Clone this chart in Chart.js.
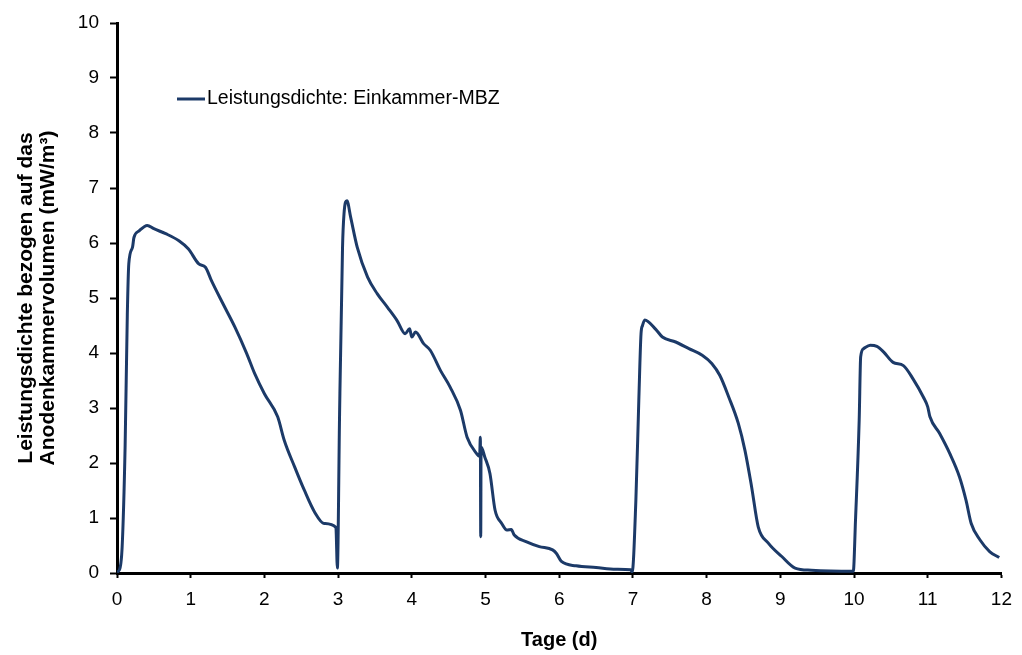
<!DOCTYPE html>
<html lang="de">
<head>
<meta charset="utf-8">
<title>Leistungsdichte Einkammer-MBZ</title>
<script src="https://cdn.jsdelivr.net/npm/chart.js@4/dist/chart.umd.min.js"></script>
<style>
  html, body { margin: 0; padding: 0; background: #fff; }
  #wrap { width: 1022px; height: 655px; position: relative; }
</style>
</head>
<body>
<div id="wrap"><canvas id="powerChart"></canvas></div>
<script>
// Tage (d)
const days = [
  0.00, 0.03, 0.07, 0.11, 0.14, 0.16, 0.21, 0.23, 0.30, 0.41, 0.50, 0.66, 0.84, 0.97,
  1.11, 1.20, 1.28, 1.44, 1.60, 1.76, 1.87, 2.00, 2.18, 2.27, 2.41, 2.54, 2.68, 2.81,
  2.97, 2.99, 3.02, 3.06, 3.08, 3.12, 3.17, 3.26, 3.40, 3.53, 3.67, 3.80, 3.91, 3.97,
  4.00, 4.05, 4.16, 4.25, 4.39, 4.52, 4.66, 4.75, 4.88, 4.92, 4.93, 4.935, 4.94, 4.99,
  5.06, 5.13, 5.22, 5.29, 5.35, 5.39, 5.55, 5.73, 5.91, 5.96, 6.03, 6.23, 6.50, 6.77,
  6.97, 6.99, 7.04, 7.08, 7.11, 7.13, 7.16, 7.31, 7.40, 7.58, 7.76, 7.94, 8.07, 8.18,
  8.30, 8.43, 8.52, 8.61, 8.70, 8.84, 9.02, 9.20, 9.42, 9.99, 10.02, 10.07, 10.09, 10.13,
  10.22, 10.31, 10.40, 10.53, 10.67, 10.80, 10.94, 11.00, 11.03, 11.16, 11.30, 11.43,
  11.52, 11.59, 11.71, 11.84, 11.97
];

// Leistungsdichte (mW/m³)
const powerDensity = [
  0.02, 0.05, 0.48, 2.30, 4.70, 5.62, 5.92, 6.10, 6.22, 6.32, 6.26, 6.17, 6.04, 5.89,
  5.62, 5.56, 5.32, 4.89, 4.47, 3.99, 3.62, 3.26, 2.84, 2.41, 1.93, 1.51, 1.11, 0.90,
  0.83, 0.09, 2.90, 5.92, 6.53, 6.77, 6.47, 5.92, 5.38, 5.08, 4.83, 4.59, 4.35, 4.44,
  4.29, 4.38, 4.17, 4.05, 3.68, 3.38, 2.96, 2.47, 2.17, 2.12, 2.47, 0.66, 2.29, 2.11,
  1.81, 1.14, 0.90, 0.78, 0.79, 0.69, 0.57, 0.48, 0.42, 0.36, 0.21, 0.13, 0.10, 0.07,
  0.06, 0.02, 1.32, 3.14, 4.35, 4.50, 4.60, 4.43, 4.29, 4.20, 4.08, 3.96, 3.81, 3.59,
  3.20, 2.72, 2.23, 1.57, 0.84, 0.54, 0.30, 0.09, 0.05, 0.03, 0.96, 2.78, 3.93, 4.08,
  4.14, 4.12, 4.02, 3.83, 3.77, 3.53, 3.20, 3.02, 2.84, 2.54, 2.17, 1.75,
  1.32, 0.90, 0.60, 0.39, 0.28
];

const seriesLabel = 'Leistungsdichte: Einkammer-MBZ';
const xTitle = 'Tage (d)';
const yTitle = ['Leistungsdichte bezogen auf das', 'Anodenkammervolumen (mW/m³)'];

const lineColor = '#1c3a68';
const fontFamily = '"Liberation Sans", Arial, sans-serif';

// legend drawn inside the plot area, upper left
const insideLegend = {
  id: 'insideLegend',
  afterDraw(chart) {
    const { ctx, chartArea } = chart;
    const x0 = chartArea.left + 60;
    const y0 = chartArea.top + 76;
    ctx.save();
    ctx.strokeStyle = lineColor;
    ctx.lineWidth = 3;
    ctx.beginPath();
    ctx.moveTo(x0, y0);
    ctx.lineTo(x0 + 28, y0);
    ctx.stroke();
    ctx.fillStyle = '#000';
    ctx.font = '19.5px ' + fontFamily;
    ctx.textBaseline = 'middle';
    ctx.textAlign = 'left';
    ctx.fillText(chart.data.datasets[0].label, x0 + 30, y0);
    ctx.restore();
  }
};

const ctx = document.getElementById('powerChart').getContext('2d');
new Chart(ctx, {
  type: 'scatter',
  data: {
    datasets: [{
      label: seriesLabel,
      data: days.map((d, i) => ({ x: d, y: powerDensity[i] })),
      showLine: true,
      borderColor: lineColor,
      backgroundColor: lineColor,
      borderWidth: 3,
      pointRadius: 0,
      cubicInterpolationMode: 'monotone'
    }]
  },
  options: {
    responsive: true,
    maintainAspectRatio: false,
    animation: false,
    layout: { padding: { top: 23, right: 15, left: 0, bottom: 0 } },
    plugins: {
      legend: { display: false },
      tooltip: { enabled: false }
    },
    scales: {
      x: {
        type: 'linear',
        min: 0,
        max: 12,
        afterFit: s => { s.height = 82; },
        ticks: { stepSize: 1, color: '#000', padding: 10, font: { size: 19, family: fontFamily } },
        grid: { drawOnChartArea: false, drawTicks: true, tickLength: 5, tickColor: '#000', tickWidth: 2 },
        border: { color: '#000', width: 3 },
        title: {
          display: true,
          text: xTitle,
          color: '#000',
          padding: { top: 0, bottom: 3 },
          font: { size: 20, weight: 'bold', family: fontFamily }
        }
      },
      y: {
        min: 0,
        max: 10,
        afterFit: s => { s.width = 117; },
        ticks: { stepSize: 1, color: '#000', padding: 11, font: { size: 19, family: fontFamily } },
        grid: { drawOnChartArea: false, drawTicks: true, tickLength: 7, tickColor: '#000', tickWidth: 2 },
        border: { color: '#000', width: 3 },
        title: {
          display: true,
          text: yTitle,
          color: '#000',
          padding: { top: 15, bottom: 0 },
          font: { size: 21, weight: 'bold', family: fontFamily, lineHeight: 1.05 }
        }
      }
    }
  },
  plugins: [insideLegend]
});
</script>
</body>
</html>
